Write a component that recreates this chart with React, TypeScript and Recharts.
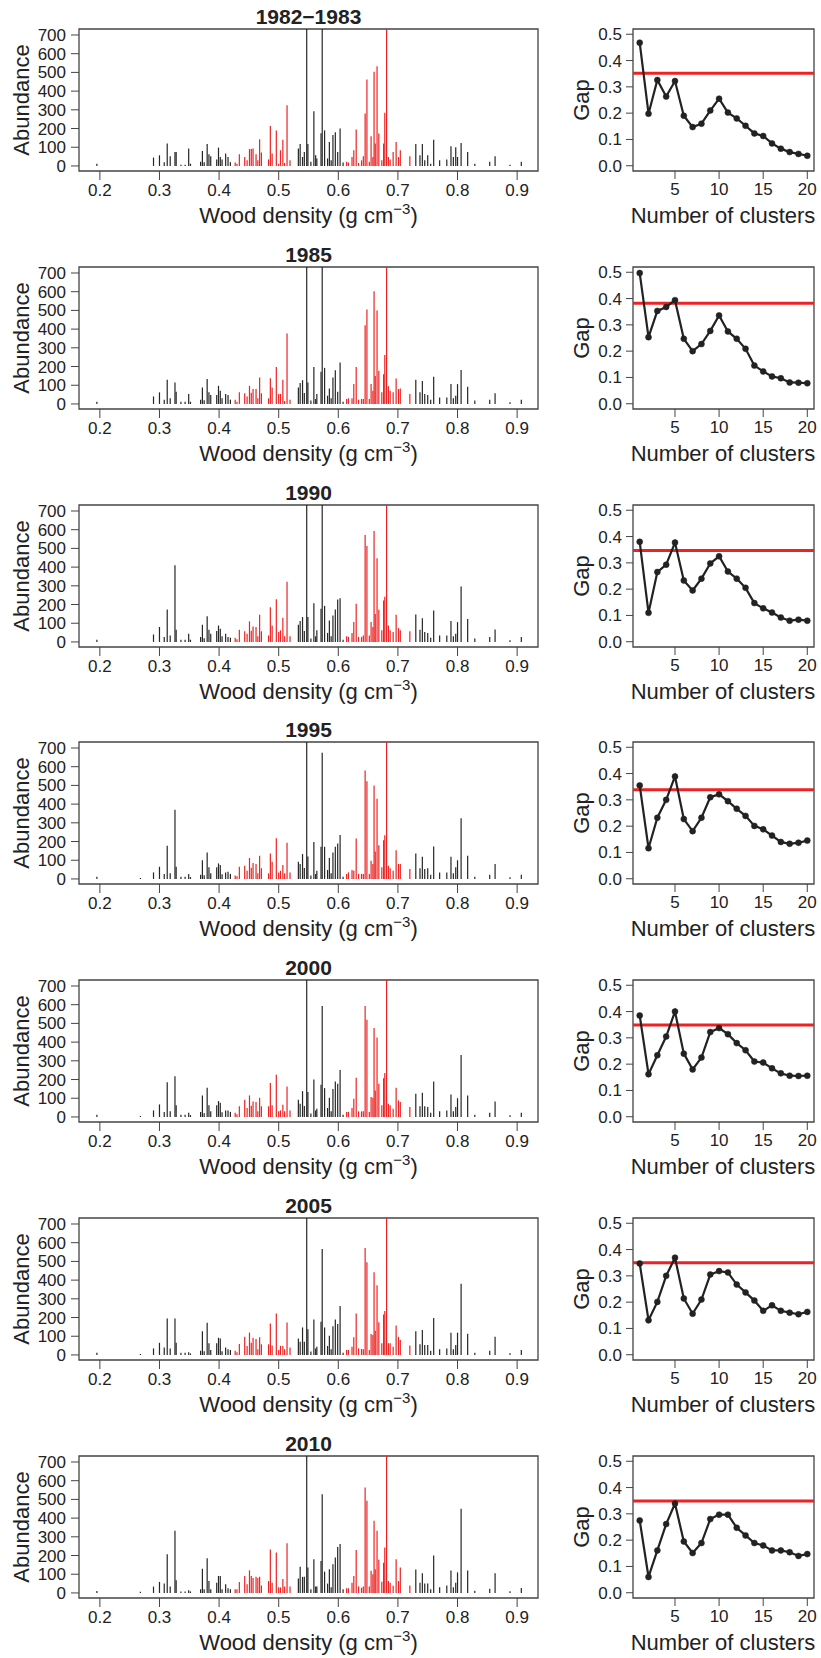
import React from "react";
import {
  ComposedChart,
  LineChart,
  Line,
  Scatter,
  ErrorBar,
  XAxis,
  YAxis,
  ReferenceArea,
  ReferenceLine,
} from "recharts";

const PANEL_TITLES = ["1982\u22121983", "1985", "1990", "1995", "2000", "2005", "2010"];

// wood density of each species (g cm-3)
const DENSITY = [
  0.195, 0.268, 0.29, 0.3, 0.308, 0.313, 0.318, 0.326, 0.328, 0.336,
  0.343, 0.349, 0.352, 0.369, 0.372, 0.375, 0.38, 0.383, 0.386, 0.396,
  0.399, 0.402, 0.405, 0.411, 0.415, 0.419, 0.427, 0.43, 0.434, 0.443,
  0.447, 0.451, 0.454, 0.457, 0.462, 0.465, 0.468, 0.471, 0.483, 0.486,
  0.489, 0.496, 0.5, 0.503, 0.507, 0.51, 0.514, 0.519, 0.533, 0.536,
  0.54, 0.543, 0.547, 0.549, 0.554, 0.559, 0.562, 0.564, 0.571, 0.573,
  0.577, 0.582, 0.585, 0.588, 0.591, 0.595, 0.599, 0.603, 0.608, 0.614,
  0.617, 0.623, 0.626, 0.63, 0.634, 0.639, 0.642, 0.645, 0.648, 0.652,
  0.655, 0.658, 0.66, 0.662, 0.665, 0.668, 0.673, 0.676, 0.678, 0.681,
  0.684, 0.687, 0.692, 0.697, 0.701, 0.704, 0.72, 0.73, 0.737, 0.741,
  0.745, 0.75, 0.755, 0.76, 0.77, 0.782, 0.789, 0.793, 0.797, 0.8,
  0.806, 0.817, 0.829, 0.854, 0.863, 0.888, 0.907,
];

// abundance per species, one list per census
const ABUND_1982 = [
  12, 0, 45, 57, 20, 120, 52, 75, 75, 7,
  7, 93, 12, 22, 80, 20, 117, 62, 52, 35,
  98, 48, 35, 66, 48, 20, 18, 12, 62, 48,
  30, 90, 90, 93, 62, 30, 143, 72, 35, 213,
  66, 190, 12, 84, 140, 16, 325, 30, 93, 117,
  48, 75, 1400, 117, 22, 292, 57, 40, 175, 1400,
  190, 40, 128, 30, 165, 180, 75, 200, 18, 22,
  18, 48, 84, 195, 16, 30, 52, 280, 462, 22,
  159, 48, 503, 120, 533, 173, 30, 120, 285, 1400,
  48, 35, 75, 128, 48, 84, 52, 117, 57, 117,
  30, 57, 12, 140, 30, 35, 105, 48, 100, 48,
  123, 75, 12, 22, 52, 7, 22,
];
const ABUND_1985 = [
  12, 0, 40, 62, 23, 129, 30, 115, 65, 12,
  12, 53, 12, 23, 88, 20, 133, 62, 48, 48,
  97, 71, 30, 53, 48, 23, 23, 12, 62, 57,
  40, 97, 60, 80, 80, 30, 142, 57, 30, 138,
  88, 198, 53, 53, 129, 16, 377, 23, 88, 112,
  127, 58, 1400, 115, 18, 198, 27, 53, 172, 1400,
  193, 44, 83, 30, 142, 180, 65, 221, 12, 27,
  30, 30, 106, 198, 23, 27, 27, 420, 505, 27,
  106, 71, 602, 150, 499, 177, 62, 159, 262, 1400,
  94, 71, 62, 136, 80, 83, 53, 129, 62, 122,
  53, 48, 23, 145, 35, 35, 106, 30, 44, 106,
  182, 92, 18, 23, 57, 9, 23,
];
const ABUND_1990 = [
  12, 0, 40, 80, 27, 173, 35, 410, 65, 12,
  12, 44, 12, 27, 92, 20, 138, 65, 44, 58,
  88, 71, 30, 44, 27, 23, 23, 15, 65, 57,
  44, 110, 60, 83, 80, 30, 145, 57, 35, 186,
  88, 228, 53, 62, 129, 30, 322, 30, 92, 112,
  133, 58, 1400, 133, 18, 207, 30, 62, 177, 1400,
  193, 48, 115, 30, 142, 173, 227, 233, 12, 30,
  27, 48, 106, 204, 27, 27, 35, 572, 513, 35,
  106, 80, 593, 150, 448, 172, 62, 221, 242, 1400,
  88, 62, 53, 145, 74, 62, 57, 147, 65, 127,
  53, 48, 23, 168, 35, 35, 112, 30, 44, 106,
  296, 122, 18, 27, 67, 9, 27,
];
const ABUND_1995 = [
  12, 5, 35, 65, 27, 177, 30, 370, 65, 12,
  12, 27, 10, 23, 100, 20, 142, 62, 30, 62,
  83, 74, 25, 35, 39, 27, 18, 15, 65, 71,
  44, 112, 60, 85, 80, 30, 124, 57, 30, 136,
  92, 218, 35, 44, 74, 30, 193, 35, 92, 80,
  133, 58, 1400, 120, 18, 198, 27, 44, 172, 674,
  172, 48, 112, 30, 142, 172, 189, 235, 12, 27,
  35, 48, 44, 216, 27, 27, 27, 579, 522, 27,
  97, 80, 499, 147, 428, 180, 62, 207, 233, 1400,
  71, 57, 44, 154, 80, 80, 53, 136, 57, 119,
  53, 57, 23, 173, 35, 35, 119, 30, 62, 100,
  324, 124, 12, 23, 80, 9, 23,
];
const ABUND_2000 = [
  12, 5, 35, 67, 27, 186, 30, 218, 62, 12,
  12, 23, 10, 27, 115, 20, 156, 62, 30, 62,
  85, 76, 25, 35, 35, 27, 23, 15, 57, 92,
  48, 115, 60, 83, 80, 30, 103, 57, 57, 182,
  62, 225, 30, 35, 65, 30, 163, 35, 92, 70,
  138, 58, 1400, 133, 18, 200, 35, 44, 172, 593,
  154, 48, 103, 30, 150, 189, 177, 251, 12, 27,
  27, 48, 97, 210, 30, 30, 30, 593, 519, 27,
  106, 103, 476, 142, 425, 177, 62, 207, 235, 1400,
  70, 62, 44, 156, 88, 80, 53, 124, 57, 129,
  57, 53, 23, 189, 30, 35, 120, 30, 53, 100,
  331, 115, 12, 23, 83, 9, 23,
];
const ABUND_2005 = [
  12, 5, 35, 65, 40, 195, 35, 195, 65, 12,
  12, 15, 8, 23, 127, 20, 172, 62, 27, 62,
  92, 88, 20, 40, 30, 27, 23, 15, 58, 97,
  48, 120, 65, 92, 85, 30, 94, 57, 57, 168,
  50, 221, 27, 48, 48, 30, 173, 40, 88, 70,
  147, 70, 1400, 138, 18, 189, 35, 44, 177, 566,
  147, 48, 103, 30, 154, 189, 166, 262, 12, 27,
  27, 44, 94, 221, 35, 32, 30, 572, 496, 27,
  112, 106, 442, 129, 372, 175, 62, 216, 235, 1400,
  62, 62, 44, 158, 97, 80, 50, 127, 57, 133,
  53, 53, 23, 198, 30, 35, 119, 30, 53, 119,
  381, 113, 12, 23, 97, 9, 27,
];
const ABUND_2010 = [
  11, 7, 34, 59, 50, 207, 34, 332, 68, 8,
  8, 14, 8, 20, 130, 20, 186, 64, 20, 54,
  91, 91, 20, 46, 25, 20, 20, 20, 59, 91,
  46, 121, 91, 80, 86, 80, 86, 40, 64, 232,
  55, 216, 30, 30, 75, 35, 266, 35, 77, 140,
  86, 86, 1400, 136, 20, 180, 35, 35, 171, 528,
  114, 50, 127, 30, 153, 189, 246, 261, 20, 25,
  25, 55, 91, 230, 35, 28, 35, 564, 493, 35,
  118, 100, 386, 127, 332, 177, 60, 162, 243, 1400,
  64, 55, 38, 180, 64, 136, 40, 125, 55, 105,
  50, 50, 20, 200, 30, 40, 120, 30, 55, 110,
  450, 120, 12, 23, 105, 9, 27,
];

const CLUSTERS = [1, 2, 3, 4, 5, 6, 7, 8, 9, 10, 11, 12, 13, 14, 15, 16, 17, 18, 19, 20];
const GAP_1982 = [0.468, 0.198, 0.326, 0.263, 0.322, 0.19, 0.147, 0.16, 0.21, 0.255, 0.202, 0.18, 0.152, 0.123, 0.113, 0.085, 0.065, 0.052, 0.045, 0.038];
const GAP_1985 = [0.497, 0.253, 0.353, 0.368, 0.394, 0.247, 0.2, 0.227, 0.277, 0.336, 0.275, 0.247, 0.209, 0.145, 0.123, 0.104, 0.097, 0.081, 0.08, 0.078];
const GAP_1990 = [0.38, 0.11, 0.265, 0.293, 0.377, 0.233, 0.195, 0.24, 0.298, 0.325, 0.267, 0.24, 0.205, 0.147, 0.127, 0.111, 0.092, 0.08, 0.084, 0.08];
const GAP_1995 = [0.355, 0.116, 0.232, 0.3, 0.389, 0.227, 0.181, 0.232, 0.31, 0.321, 0.295, 0.266, 0.239, 0.201, 0.188, 0.164, 0.14, 0.133, 0.137, 0.145];
const GAP_2000 = [0.385, 0.162, 0.234, 0.305, 0.4, 0.24, 0.18, 0.225, 0.322, 0.337, 0.314, 0.28, 0.253, 0.21, 0.206, 0.184, 0.165, 0.156, 0.155, 0.156];
const GAP_2005 = [0.347, 0.131, 0.201, 0.3, 0.369, 0.214, 0.156, 0.21, 0.305, 0.318, 0.313, 0.267, 0.237, 0.206, 0.167, 0.188, 0.167, 0.16, 0.154, 0.163];
const GAP_2010 = [0.275, 0.06, 0.161, 0.261, 0.339, 0.195, 0.151, 0.189, 0.28, 0.297, 0.297, 0.247, 0.218, 0.189, 0.18, 0.161, 0.161, 0.154, 0.14, 0.147];
const GAP_CUTOFF = [0.352, 0.382, 0.347, 0.338, 0.349, 0.35, 0.349];

const ABUNDANCES = [ABUND_1982, ABUND_1985, ABUND_1990, ABUND_1995, ABUND_2000, ABUND_2005, ABUND_2010];
const GAPS = [GAP_1982, GAP_1985, GAP_1990, GAP_1995, GAP_2000, GAP_2005, GAP_2010];

const DENSITY_TICKS = [0.2, 0.3, 0.4, 0.5, 0.6, 0.7, 0.8, 0.9];
const ABUND_TICKS = [0, 100, 200, 300, 400, 500, 600, 700];
const CLUSTER_TICKS = [5, 10, 15, 20];
const GAP_TICKS = [0, 0.1, 0.2, 0.3, 0.4, 0.5];

const INK = "#222";
const FRAME = "#444";
const RED = "#ee2222";
const FONT = "'Liberation Sans', Arial, sans-serif";
const ROW_STEP = 237.8;

const D_DOMAIN: [number, number] = [0.165, 0.935];
const A_DOMAIN: [number, number] = [-27, 732];
const K_DOMAIN: [number, number] = [0.24, 20.76];
const G_DOMAIN: [number, number] = [-0.02, 0.52];

// species in the two dense-wood clusters are drawn red
const inRedCluster = (d: number) => (d >= 0.425 && d <= 0.521) || (d >= 0.612 && d <= 0.722);

// spikes taller than the frame are cut at the top edge, as in the figure
function spikes(values: number[], red: boolean) {
  return DENSITY.map((x, i) => {
    const top = Math.min(values[i], A_DOMAIN[1]);
    return { x, y: top, err: [top, 0] };
  }).filter((p) => p.y > 0 && inRedCluster(p.x) === red);
}

const noDot = () => <g />;
const tickStyle = { fontSize: 17, fill: INK, fontFamily: FONT };

function SpikePanel({ values }: { values: number[] }) {
  return (
    <ComposedChart width={560} height={237} margin={{ top: 29, right: 22, bottom: 0, left: 0 }}>
      <XAxis
        type="number"
        dataKey="x"
        domain={D_DOMAIN}
        allowDataOverflow
        ticks={DENSITY_TICKS}
        interval={0}
        height={66}
        tickSize={9}
        tickMargin={4}
        axisLine={false}
        tickLine={{ stroke: FRAME }}
        tick={tickStyle}
        tickFormatter={(v: number) => v.toFixed(1)}
      />
      <YAxis
        type="number"
        dataKey="y"
        domain={A_DOMAIN}
        allowDataOverflow
        ticks={ABUND_TICKS}
        interval={0}
        width={79}
        tickSize={8}
        tickMargin={5}
        axisLine={false}
        tickLine={{ stroke: FRAME }}
        tick={tickStyle}
      />
      <Scatter data={spikes(values, false)} shape={noDot} isAnimationActive={false}>
        <ErrorBar dataKey="err" direction="y" width={0} stroke="#262626" strokeWidth={1.2} isAnimationActive={false} />
      </Scatter>
      <Scatter data={spikes(values, true)} shape={noDot} isAnimationActive={false}>
        <ErrorBar dataKey="err" direction="y" width={0} stroke={RED} strokeWidth={1.2} isAnimationActive={false} />
      </Scatter>
      <ReferenceArea
        x1={D_DOMAIN[0]}
        x2={D_DOMAIN[1]}
        y1={A_DOMAIN[0]}
        y2={A_DOMAIN[1]}
        fill="none"
        stroke={FRAME}
        strokeWidth={1.3}
        fillOpacity={0}
      />
    </ComposedChart>
  );
}

function GapPanel({ gap, cutoff }: { gap: number[]; cutoff: number }) {
  const rows = CLUSTERS.map((k, i) => ({ k, gap: gap[i] }));
  return (
    <LineChart width={261} height={237} data={rows} margin={{ top: 29, right: 7, bottom: 0, left: 0 }}>
      <XAxis
        type="number"
        dataKey="k"
        domain={K_DOMAIN}
        allowDataOverflow
        ticks={CLUSTER_TICKS}
        interval={0}
        height={66}
        tickSize={8}
        tickMargin={4}
        axisLine={false}
        tickLine={{ stroke: FRAME }}
        tick={tickStyle}
      />
      <YAxis
        type="number"
        domain={G_DOMAIN}
        allowDataOverflow
        ticks={GAP_TICKS}
        interval={0}
        width={73}
        tickSize={7}
        tickMargin={4}
        axisLine={false}
        tickLine={{ stroke: FRAME }}
        tick={tickStyle}
        tickFormatter={(v: number) => v.toFixed(1)}
      />
      <ReferenceLine y={cutoff} stroke={RED} strokeWidth={3} />
      <Line
        dataKey="gap"
        stroke={INK}
        strokeWidth={2.2}
        dot={{ r: 3, fill: INK, stroke: INK, strokeWidth: 0.5 }}
        isAnimationActive={false}
      />
      <ReferenceArea
        x1={K_DOMAIN[0]}
        x2={K_DOMAIN[1]}
        y1={G_DOMAIN[0]}
        y2={G_DOMAIN[1]}
        fill="none"
        stroke={FRAME}
        strokeWidth={1.3}
        fillOpacity={0}
      />
    </LineChart>
  );
}

const textBase: React.CSSProperties = {
  position: "absolute",
  color: INK,
  fontFamily: FONT,
  whiteSpace: "nowrap",
  textAlign: "center",
};

function Row({ index }: { index: number }) {
  const top = index * ROW_STEP;
  return (
    <>
      <div style={{ position: "absolute", left: 0, top }}>
        <SpikePanel values={ABUNDANCES[index]} />
      </div>
      <div style={{ position: "absolute", left: 560, top }}>
        <GapPanel gap={GAPS[index]} cutoff={GAP_CUTOFF[index]} />
      </div>
      <div style={{ ...textBase, left: 79, width: 459, top: top + 5, fontSize: 21, lineHeight: "24px", fontWeight: "bold" }}>
        {PANEL_TITLES[index]}
      </div>
      <div
        style={{
          ...textBase,
          left: 22 - 71,
          width: 142,
          top: top + 100 - 13,
          height: 26,
          fontSize: 22,
          lineHeight: "26px",
          transform: "rotate(-90deg)",
        }}
      >
        Abundance
      </div>
      <div
        style={{
          ...textBase,
          left: 582 - 71,
          width: 142,
          top: top + 100 - 13,
          height: 26,
          fontSize: 22,
          lineHeight: "26px",
          transform: "rotate(-90deg)",
        }}
      >
        Gap
      </div>
      <div style={{ ...textBase, left: 79, width: 459, top: top + 216 - 13, fontSize: 22, lineHeight: "26px" }}>
        Wood density (g cm<span style={{ position: "relative", top: -9, fontSize: 15 }}>{"\u22123"}</span>)
      </div>
      <div style={{ ...textBase, left: 600, width: 246, top: top + 216 - 13, fontSize: 22, lineHeight: "26px" }}>
        Number of clusters
      </div>
    </>
  );
}

export default function App() {
  return (
    <div
      style={{
        position: "absolute",
        left: 0,
        top: 0,
        width: 821,
        height: 1658,
        background: "#fff",
        overflow: "hidden",
        fontFamily: FONT,
      }}
    >
      {PANEL_TITLES.map((_, i) => (
        <Row key={i} index={i} />
      ))}
    </div>
  );
}
